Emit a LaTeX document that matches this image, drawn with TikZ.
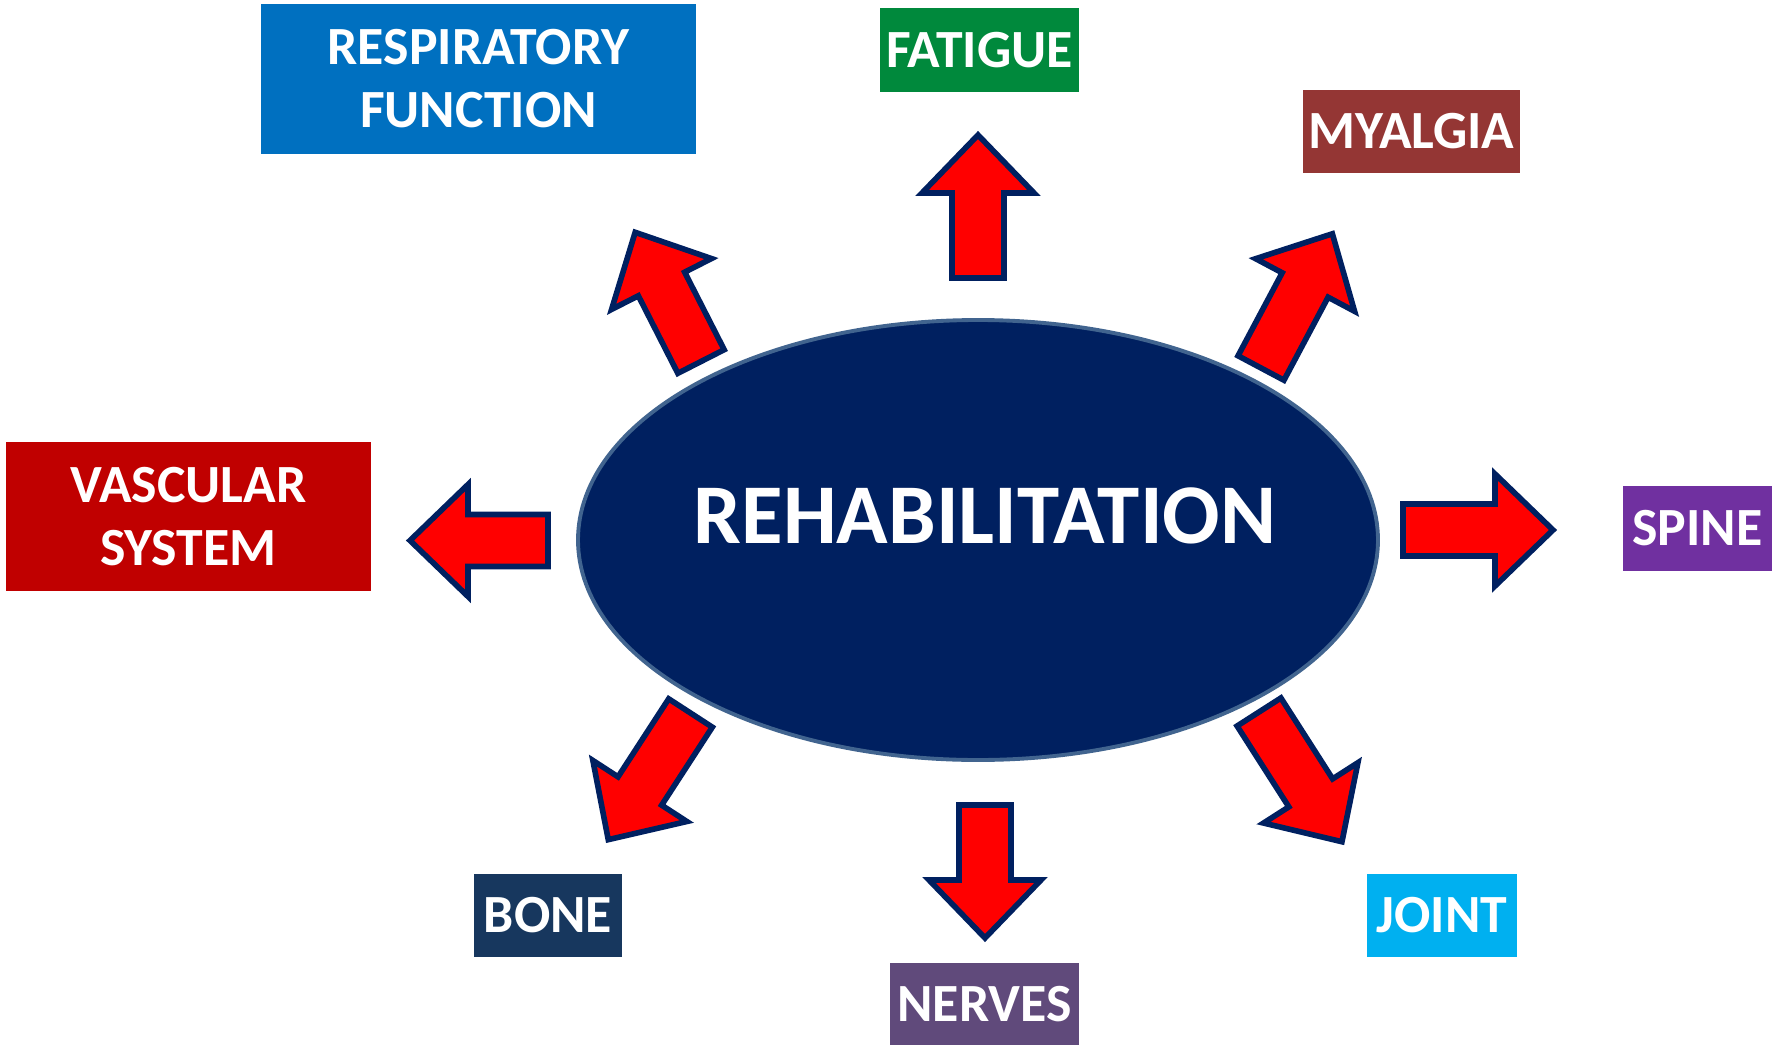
\documentclass[tikz,border=0pt]{standalone}
\usepackage{fontspec}
\setmainfont{Carlito}
\usetikzlibrary{shapes.geometric}
\definecolor{navy}{HTML}{002060}
\definecolor{rimblue}{HTML}{41648F}
\definecolor{arrowred}{HTML}{FF0000}
\definecolor{respblue}{HTML}{0070C0}
\definecolor{fatgreen}{HTML}{00893C}
\definecolor{myabrown}{HTML}{943634}
\definecolor{vascred}{HTML}{C00000}
\definecolor{spinepurple}{HTML}{7030A0}
\definecolor{bonenavy}{HTML}{17375E}
\definecolor{nervepurple}{HTML}{604A7B}
\definecolor{jointcyan}{HTML}{00B0F0}

\begin{document}
\begin{tikzpicture}[
	box/.style={rectangle, inner sep=0pt, text=white, align=center,
		font=\fontsize{15.3}{17.9}\selectfont\bfseries},
	pics/blockarrow/.style={code={
		\draw[fill=arrowred, draw=navy, line width=1.6pt]
			(0,-0.26) -- ({#1-0.58},-0.26) -- ({#1-0.58},-0.56) -- (#1,0)
			-- ({#1-0.58},0.56) -- ({#1-0.58},0.26) -- (0,0.26) -- cycle;
	}}
]
	\useasboundingbox (0,0) rectangle (17.72,-10.45);
	% central ellipse
	\node[ellipse, fill=navy, draw=rimblue, line width=1.1pt, inner sep=0pt,
		minimum width=8.0cm, minimum height=4.4cm] (rehab) at (9.78,-5.40) {};
	\node[text=white, font=\fontsize{24.2}{27}\selectfont\bfseries] (rehabtext)
		at (9.85,-5.16) {REHABILITATION};
	% outer boxes
	\node[box, fill=respblue, minimum width=4.35cm, minimum height=1.49cm] (resp)
		at (4.785,-0.79) {RESPIRATORY\\FUNCTION};
	\node[box, fill=fatgreen, minimum width=1.99cm, minimum height=0.84cm] (fatigue)
		at (9.795,-0.50) {FATIGUE};
	\node[box, fill=myabrown, minimum width=2.17cm, minimum height=0.83cm] (myalgia)
		at (14.115,-1.315) {MYALGIA};
	\node[box, fill=vascred, minimum width=3.65cm, minimum height=1.49cm] (vascular)
		at (1.885,-5.165) {VASCULAR\\SYSTEM};
	\node[box, fill=spinepurple, minimum width=1.49cm, minimum height=0.85cm] (spine)
		at (16.975,-5.285) {SPINE};
	\node[box, fill=bonenavy, minimum width=1.48cm, minimum height=0.83cm] (bone)
		at (5.48,-9.155) {BONE};
	\node[box, fill=nervepurple, minimum width=1.89cm, minimum height=0.82cm] (nerves)
		at (9.845,-10.04) {NERVES};
	\node[box, fill=jointcyan, minimum width=1.50cm, minimum height=0.83cm] (joint)
		at (14.42,-9.155) {JOINT};
	% block arrows pointing outwards
	\pic[rotate=90] at (9.78,-2.78) {blockarrow=1.43};
	\pic[rotate=-90] at (9.85,-8.05) {blockarrow=1.33};
	\pic[rotate=180] at (5.48,-5.405) {blockarrow=1.38};
	\pic at (14.03,-5.30) {blockarrow=1.50};
	\pic[rotate=117] at (7.01,-3.615) {blockarrow=1.45};
	\pic[rotate=62] at (12.61,-3.68) {blockarrow=1.52};
	\pic[rotate=237] at (6.905,-7.13) {blockarrow=1.51};
	\pic[rotate=302.6] at (12.59,-7.12) {blockarrow=1.54};
\end{tikzpicture}
\end{document}
